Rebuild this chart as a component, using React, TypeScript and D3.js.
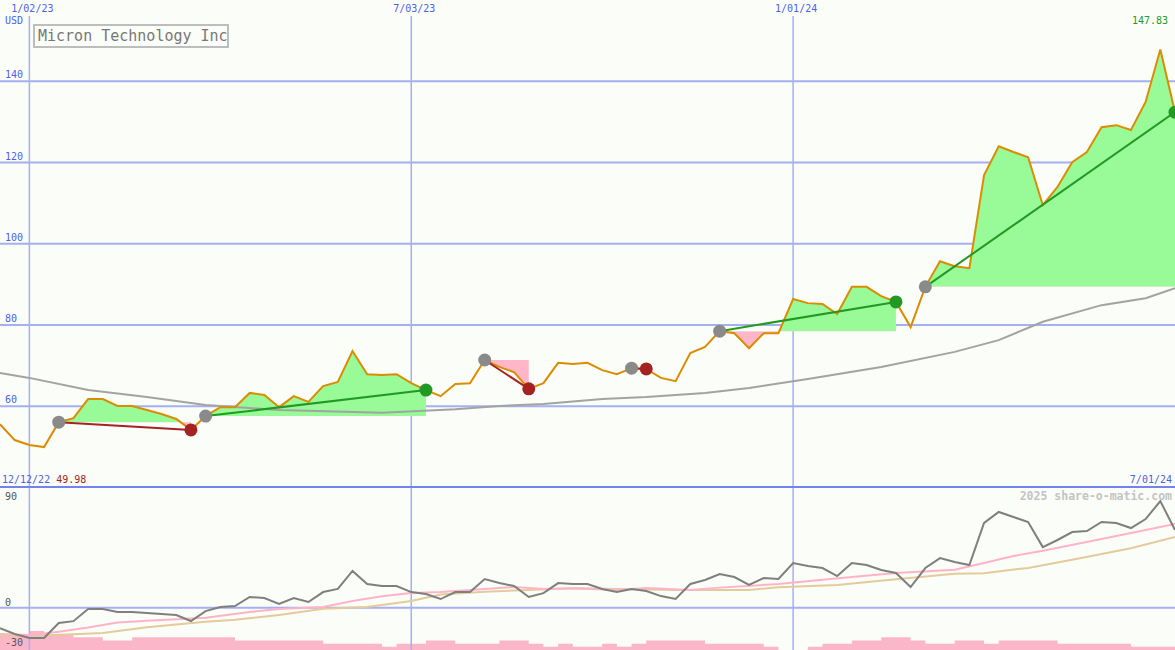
import * as d3 from "d3";

const W = 1175;
const H = 650;
const DAY = 864e5;
const START = Date.UTC(2022, 11, 19);
const wk = (i: number) => new Date(START + i * 7 * DAY);

// weekly closes, 12/19/22 .. 7/01/24
const closes = [
  55.6, 51.7, 50.5, 49.98, 56.1, 57.1, 61.8, 61.8, 60.1, 60.1, 59.1, 58.1, 56.9, 54.2, 57.6, 59.8,
  59.8, 63.3, 62.8, 59.8, 62.5, 61.1, 65.0, 66.0, 73.6, 67.9, 67.7, 67.9, 65.7, 64.0, 62.5, 65.5,
  65.7, 71.4, 69.7, 68.4, 64.3, 65.7, 70.7, 70.4, 70.7, 68.9, 67.9, 69.4, 69.2, 67.0, 66.2, 73.1,
  74.6, 78.5, 78.0, 74.3, 78.0, 78.0, 86.4, 85.4, 85.2, 82.7, 89.4, 89.4, 87.1, 85.7, 79.5, 89.4,
  95.7, 94.5, 94.0, 116.9, 124.0, 122.6, 121.3, 109.5, 114.0, 120.1, 122.6, 128.7, 129.2, 128.0,
  134.9, 147.83, 132.4,
];

// long moving average on the price panel: [week, value]
const priceMA: [number, number][] = [
  [0, 68.2], [2, 67.0], [6, 64.0], [10, 62.3], [14, 60.3], [19, 59.1], [26, 58.4], [31, 59.3],
  [34, 60.1], [37, 60.6], [41, 61.8], [44, 62.3], [48, 63.3], [51, 64.5], [55, 66.7], [60, 69.7],
  [65, 73.4], [68, 76.3], [71, 80.8], [75, 84.9], [78, 86.6], [80, 89.1],
];

// lower panel oscillator
const osc = [
  -15.2, -19.6, -22.6, -22.6, -11.4, -10.0, -1.0, -1.0, -3.2, -3.2, -4.0, -4.7, -5.4, -9.9, -2.5, 0.5,
  1.3, 8.0, 7.2, 2.8, 7.2, 4.3, 11.7, 14.0, 27.4, 17.7, 16.2, 16.2, 11.7, 10.2, 6.5, 11.7,
  11.7, 21.4, 18.4, 16.2, 8.0, 10.9, 18.4, 17.7, 17.7, 14.0, 11.7, 14.0, 12.5, 8.7, 6.5, 17.7,
  20.7, 25.1, 22.9, 17.0, 22.2, 21.4, 33.3, 31.1, 29.6, 23.6, 33.3, 31.8, 28.1, 25.9, 15.4, 29.6,
  37.0, 34.1, 31.8, 63.2, 71.4, 67.6, 63.9, 45.2, 50.5, 56.4, 57.2, 63.9, 63.2, 59.4, 66.1, 79.5,
  57.9,
];

const oscFast: [number, number][] = [
  [0, -19.6], [2, -20.4], [4, -17.8], [6, -14.8], [8, -11.0], [10, -9.6], [12, -8.5], [14, -7.4],
  [17, -3.2], [19, -1.0], [22, 0.6], [24, 5.0], [26, 8.5], [28, 11.0], [30, 11.7], [33, 13.9],
  [35, 15.4], [37, 13.9], [39, 14.5], [42, 13.2], [44, 14.7], [47, 13.2], [49, 15.0], [53, 17.7],
  [56, 20.9], [58, 22.9], [61, 25.9], [65, 28.3], [67, 33.3], [69, 38.6], [71, 42.5], [75, 51.2],
  [77, 55.7], [80, 62.4],
];

const oscSlow: [number, number][] = [
  [0, -21.1], [3, -20.6], [7, -18.9], [10, -14.6], [14, -10.4], [16, -9.0], [19, -5.4], [22, -0.8],
  [25, 0.6], [28, 5.0], [30, 9.8], [33, 11.9], [36, 13.2], [39, 14.5], [42, 13.9], [46, 13.2],
  [51, 13.3], [53, 15.2], [57, 16.9], [61, 21.2], [65, 25.3], [67, 25.8], [70, 29.7], [73, 35.8],
  [75, 40.0], [77, 44.4], [80, 52.7],
];

const volume = [
  5, 5, 6, 5, 5, 4, 4, 3, 3, 4, 4, 4, 4, 4, 4, 4, 3, 3, 3, 3, 3, 3, 2, 2, 2, 2, 1, 2, 2, 3, 3, 2,
  2, 2, 3, 3, 2, 1, 2, 1, 1, 2, 1, 2, 3, 3, 3, 3, 2, 2, 2, 2, 1, 0, 0, 1, 2, 2, 3, 3, 4, 4,
  3, 2, 2, 3, 3, 2, 3, 3, 3, 3, 2, 2, 2, 2, 2, 1, 1, 1, 1,
];

const swingStart = [4, 14, 33, 43, 49, 63];
const swingEnd = [13, 29, 36, 44, 61, 80];

const priceTicks = [60, 80, 100, 120, 140];
const dateTicks = [Date.UTC(2023, 0, 2), Date.UTC(2023, 6, 3), Date.UTC(2024, 0, 1)];
const dateLabels = ["1/02/23", "7/03/23", "1/01/24"];
const oscTicks = [90, 0, -30];

const MONO = "'DejaVu Sans Mono', monospace";
const BLUE = "#4f5fe8";
const GRID = "#a4b0f0";

export default function App() {
  const x = d3.scaleUtc().domain([wk(0), wk(80)]).range([0, W]);
  const yP = d3.scaleLinear().domain([40, 160]).range([487.6, 0]);
  const yO = d3.scaleLinear().domain([-30, 90]).range([648, 487]);
  const yV = d3.scaleLinear().domain([0, 6]).range([650, 631]);

  const priceLine = d3.line<number>().x((_, i) => x(wk(i))).y((d) => yP(d));
  const pairLineP = d3.line<[number, number]>().x((d) => x(wk(d[0]))).y((d) => yP(d[1]));
  const pairLineO = d3.line<[number, number]>().x((d) => x(wk(d[0]))).y((d) => yO(d[1]));
  const oscLine = d3.line<number>().x((_, i) => x(wk(i))).y((d) => yO(d));
  const volArea = d3
    .area<number>()
    .x((_, i) => x(wk(i)))
    .y0(H)
    .y1((d) => yV(d))
    .curve(d3.curveStepAfter);

  const swings = swingStart.map((s, k) => {
    const e = swingEnd[k];
    const base = closes[s];
    const idx = d3.range(s, e + 1);
    const area = d3
      .area<number>()
      .x((i) => x(wk(i)))
      .y0(yP(base))
      .y1((i) => yP(closes[i]));
    return { s, e, base, d: area(idx) || "", up: closes[e] >= base };
  });

  const maxI = closes.indexOf(d3.max(closes) as number);
  const minI = closes.indexOf(d3.min(closes) as number);

  return (
    <>
      <style>{`body{margin:0;background:#fbfdf9}`}</style>
      <svg width={W} height={H} style={{ display: "block", background: "#fbfdf9" }}>
        <defs>
          {swings.map((sw, k) => (
            <g key={k}>
              <clipPath id={`up${k}`}>
                <rect x={0} y={0} width={W} height={yP(sw.base)} />
              </clipPath>
              <clipPath id={`dn${k}`}>
                <rect x={0} y={yP(sw.base)} width={W} height={H} />
              </clipPath>
            </g>
          ))}
        </defs>

        {/* volume strip */}
        <path d={volArea(volume) || ""} fill="#fbb6ca" />

        {/* grid */}
        {priceTicks.map((t) => (
          <line key={t} x1={0} x2={W} y1={yP(t)} y2={yP(t)} stroke={GRID} strokeWidth={2} />
        ))}
        <line x1={0} x2={W} y1={yO(0)} y2={yO(0)} stroke={GRID} strokeWidth={2} />
        {dateTicks.map((t) => (
          <line key={t} x1={x(new Date(t))} x2={x(new Date(t))} y1={16} y2={H} stroke={GRID} strokeWidth={1.5} />
        ))}
        <line x1={0} x2={W} y1={yO(90)} y2={yO(90)} stroke="#7383ee" strokeWidth={2} />

        {/* swing fills */}
        {swings.map((sw, k) => (
          <g key={k}>
            <path d={sw.d} fill="#98fb98" clipPath={`url(#up${k})`} />
            <path d={sw.d} fill="#ffb6c8" clipPath={`url(#dn${k})`} />
          </g>
        ))}

        {/* price panel lines */}
        <path d={pairLineP(priceMA) || ""} fill="none" stroke="#a3a3a3" strokeWidth={2} />
        <path d={priceLine(closes) || ""} fill="none" stroke="#dc8c00" strokeWidth={2} />
        {swings.map((sw, k) => (
          <line
            key={k}
            x1={x(wk(sw.s))}
            y1={yP(closes[sw.s])}
            x2={x(wk(sw.e))}
            y2={yP(closes[sw.e])}
            stroke={sw.up ? "#229922" : "#a52222"}
            strokeWidth={2}
          />
        ))}
        {swings.map((sw, k) => (
          <g key={k}>
            <circle cx={x(wk(sw.s))} cy={yP(closes[sw.s])} r={6.5} fill="#8a8a8a" />
            <circle cx={x(wk(sw.e))} cy={yP(closes[sw.e])} r={6.5} fill={sw.up ? "#229922" : "#a52222"} />
          </g>
        ))}

        {/* oscillator panel */}
        <path d={pairLineO(oscSlow) || ""} fill="none" stroke="#e3cb9a" strokeWidth={2} />
        <path d={pairLineO(oscFast) || ""} fill="none" stroke="#ffb3c8" strokeWidth={2} />
        <path d={oscLine(osc) || ""} fill="none" stroke="#7f7f7f" strokeWidth={2} />

        {/* text */}
        <g fontFamily={MONO} fontSize={10}>
          {dateTicks.map((t, i) => (
            <text key={t} x={x(new Date(t)) + 3} y={12} textAnchor="middle" fill={BLUE}>
              {dateLabels[i]}
            </text>
          ))}
          <text x={5} y={24} fill={BLUE}>USD</text>
          {priceTicks.map((t) => (
            <text key={t} x={5} y={yP(t) - 3} fill={BLUE}>
              {t}
            </text>
          ))}
          <text x={1168} y={24} textAnchor="end" fill="#229922">
            {closes[maxI].toFixed(2)}
          </text>
          <text x={2} y={483} fill={BLUE}>
            12/12/22 <tspan fill="#a52222">{closes[minI].toFixed(2)}</tspan>
          </text>
          <text x={1172} y={483} textAnchor="end" fill={BLUE}>7/01/24</text>
          {oscTicks.map((t) => (
            <text
              key={t}
              x={5}
              y={t === 90 ? yO(t) + 13 : t === 0 ? yO(t) - 2 : yO(t) - 2}
              fill="#555"
            >
              {t}
            </text>
          ))}
        </g>
        <text x={1172} y={500} textAnchor="end" fontFamily={MONO} fontSize={11.5} fontWeight="bold" fill="#c4c4c4">
          2025 share-o-matic.com
        </text>

        <rect x={34} y={25} width={194} height={22} fill="#fbfdf9" stroke="#bdbdbd" strokeWidth={2} />
        <text x={38} y={41} fontFamily={MONO} fontSize={15} fill="#777">
          Micron Technology Inc
        </text>
      </svg>
    </>
  );
}
